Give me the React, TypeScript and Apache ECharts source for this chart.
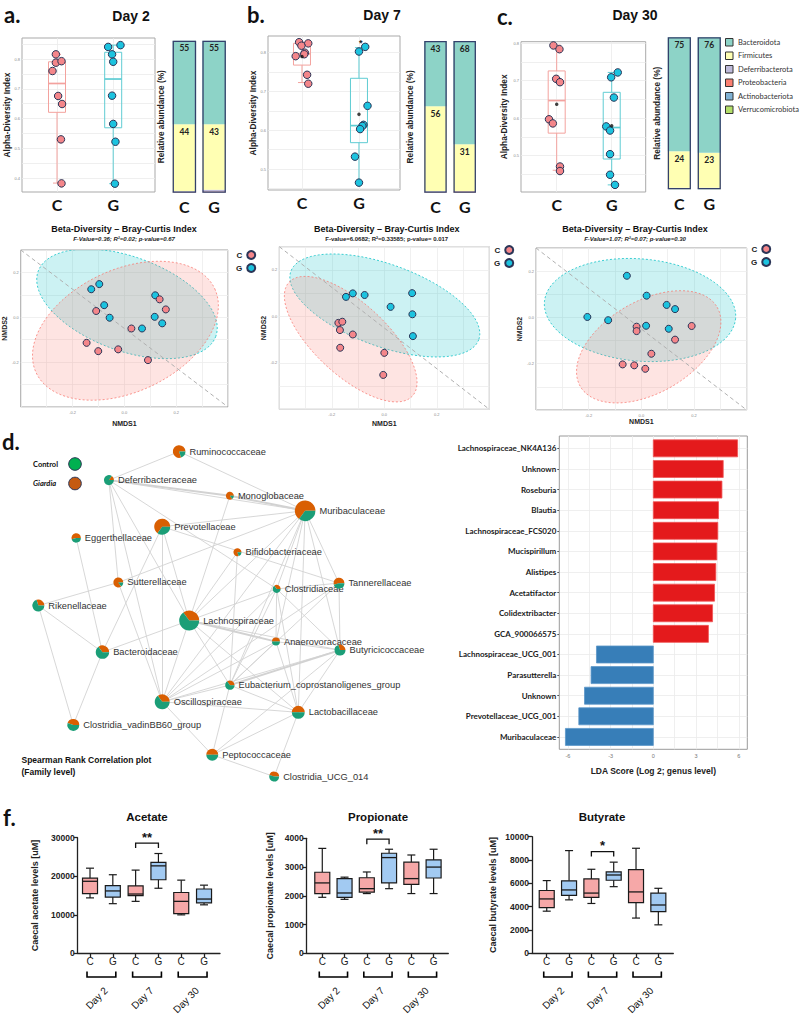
import React, { useEffect, useRef } from "react";
import * as echarts from "echarts";

const FONT = '"Liberation Sans", Arial, Helvetica, sans-serif';
const CAL = 'Lato, "Open Sans", "Liberation Sans", sans-serif';

// ---------------- a-c : alpha diversity ----------------
const groupLabels = ["C", "G"];

const alphaD2C = [0.816, 0.76, 0.788, 0.793, 0.676, 0.649, 0.53, 0.382];
const jitD2C = [-0.02, -0.08, -0.02, 0.08, 0.02, 0.09, 0.07, 0.08];
const alphaD2G = [0.841, 0.847, 0.816, 0.791, 0.677, 0.582, 0.522, 0.381];
const jitD2G = [-0.09, 0.13, -0.02, 0.0, -0.02, 0.0, 0.04, 0.03];
const boxD2C = [0.383, 0.621, 0.718, 0.791, 0.816];
const boxD2G = [0.381, 0.569, 0.733, 0.823, 0.847];

const alphaD7C = [0.827, 0.824, 0.818, 0.8, 0.796, 0.791, 0.743, 0.72];
const jitD7C = [-0.05, 0.11, -0.01, 0.05, 0.04, -0.11, 0.09, 0.11];
const alphaD7G = [0.815, 0.803, 0.663, 0.614, 0.611, 0.603, 0.532, 0.465];
const jitD7G = [0.11, 0.0, 0.15, 0.08, 0.06, 0.02, -0.07, 0.0];
const boxD7C = [0.723, 0.768, 0.797, 0.824, 0.827];
const boxD7G = [0.465, 0.568, 0.612, 0.734, 0.813];
const meanD7 = [0.79, 0.641];
const outlierD7G = [0.831];

const alphaD30C = [0.794, 0.784, 0.705, 0.696, 0.597, 0.586, 0.471, 0.459];
const jitD30C = [-0.06, 0.05, -0.01, 0.06, -0.14, -0.07, 0.06, 0.06];
const alphaD30G = [0.722, 0.709, 0.655, 0.578, 0.567, 0.504, 0.449, 0.422];
const jitD30G = [0.11, -0.01, 0.04, -0.1, -0.03, -0.03, -0.03, 0.06];
const boxD30C = [0.461, 0.56, 0.647, 0.726, 0.795];
const boxD30G = [0.422, 0.491, 0.575, 0.669, 0.722];
const meanD30 = [0.637, 0.58];

// ---------------- relative abundance (phylum) ----------------
const phyla = ["Bacteroidota", "Firmicutes", "Deferribacterota", "Proteobacteria", "Actinobacteriota", "Verrucomicrobiota"];
const relD2C = [55, 44, 0.6, 0.2, 0.1, 0.1];
const relD2G = [55, 43, 1.2, 0.5, 0.2, 0.1];
const relD7C = [43, 56, 0.6, 0.2, 0.1, 0.1];
const relD7G = [68, 31, 0.2, 0.6, 0.1, 0.1];
const relD30C = [75, 24, 0.6, 0.2, 0.1, 0.1];
const relD30G = [76, 23, 0.6, 0.2, 0.1, 0.1];

// ---------------- beta diversity (NMDS) ----------------
const betaD2C = [[-0.109, 0.028], [0.136, 0.08], [0.16, 0.035], [0.027, -0.05], [-0.146, -0.114], [-0.101, -0.151], [-0.024, -0.143], [0.091, -0.191]];
const betaD2G = [[-0.128, 0.125], [-0.097, 0.148], [-0.078, 0.054], [-0.057, -0.002], [0.119, 0.098], [0.117, 0.002], [0.146, -0.027], [0.068, -0.05]];
const ellipseD2C = [0.004, -0.06, 0.345, 0.187, 0.099, -0.247];
const ellipseD2G = [0.01, 0.06, 0.343, -0.145, -0.062, -0.197];
const betaD7C = [[-0.175, -0.028], [-0.16, -0.023], [-0.169, -0.059], [-0.12, -0.078], [-0.168, -0.135], [0.0, -0.157], [-0.004, -0.252]];
const betaD7G = [[-0.146, 0.084], [-0.12, 0.099], [-0.075, 0.092], [0.024, 0.041], [0.106, 0.1], [0.107, 0.009], [0.109, -0.085]];
const ellipseD7C = [-0.128, -0.098, 0.235, -0.245, -0.093, -0.114];
const ellipseD7G = [0.002, 0.047, 0.358, -0.147, -0.053, -0.166];
const betaD30C = [[-0.018, -0.04], [-0.018, -0.059], [0.191, -0.037], [0.128, -0.096], [0.038, -0.157], [-0.071, -0.203], [-0.027, -0.207], [0.015, -0.222]];
const betaD30G = [[-0.055, 0.18], [0.02, 0.094], [0.096, 0.054], [0.128, 0.036], [-0.205, 0.002], [-0.126, -0.012], [0.018, -0.036], [0.104, -0.049]];
const ellipseD30C = [0.028, -0.127, 0.26, 0.171, 0.087, -0.172];
const ellipseD30G = [-0.005, 0.032, 0.363, -0.036, -0.017, -0.22];
const betaStats = [
  "F-Value=0.36; R\u00B2=0.02; p-value=0.67",
  "F-value=6.0682; R\u00B2=0.33585; p-value= 0.017",
  "F-Value=1.07; R\u00B2=0.07; p-value=0.30",
];

// ---------------- d : correlation network ----------------
const families = [
  "Ruminococcaceae", "Deferribacteraceae", "Monoglobaceae", "Muribaculaceae", "Prevotellaceae",
  "Eggerthellaceae", "Bifidobacteriaceae", "Sutterellaceae", "Tannerellaceae", "Clostridiaceae",
  "Rikenellaceae", "Lachnospiraceae", "Anaerovoracaceae", "Butyricicoccaceae", "Bacteroidaceae",
  "Eubacterium_coprostanoligenes_group", "Oscillospiraceae", "Lactobacillaceae", "Clostridia_vadinBB60_group",
  "Peptococcaceae", "Clostridia_UCG_014",
];
const famX = [44.2, 24.7, 58.3, 79.2, 39.5, 15.6, 60.4, 27.3, 88.6, 71.3, 5.1, 47.0, 71.1, 88.9, 22.9, 58.3, 39.5, 77.3, 14.8, 53.4, 70.6];
const famY = [96.6, 88.2, 83.6, 79.2, 74.5, 71.2, 67.0, 58.1, 57.9, 56.2, 51.3, 46.9, 40.7, 38.2, 37.6, 27.9, 23.0, 19.9, 16.2, 7.4, 1.0];
const famAbundance = [40, 25, 16, 106, 64, 22, 16, 25, 30, 16, 36, 100, 16, 30, 45, 22, 56, 42, 36, 36, 25];
const famGiardiaShare = [0.8, 0.15, 0.85, 0.65, 0.65, 0.55, 0.8, 0.85, 0.55, 0.35, 0.3, 0.35, 0.5, 0.3, 0.35, 0.35, 0.35, 0.5, 0.45, 0.5, 0.45];
const famLinks = [
  [0, 1, 1], [0, 3, 1], [1, 2, 2], [1, 3, 1], [1, 7, 1], [1, 11, 1], [1, 16, 1], [1, 9, 1],
  [2, 3, 2], [2, 11, 1], [3, 4, 1], [3, 7, 1], [3, 11, 1], [3, 9, 1], [3, 12, 1], [3, 8, 1],
  [3, 13, 1], [3, 15, 1], [3, 16, 1], [3, 17, 1], [4, 8, 1], [4, 11, 1], [4, 16, 1], [4, 14, 1],
  [5, 14, 1], [6, 15, 1], [6, 11, 1], [7, 10, 1], [7, 16, 1], [8, 13, 1], [8, 9, 1], [8, 15, 1],
  [8, 16, 1], [9, 12, 1], [9, 15, 1], [9, 16, 1], [9, 13, 1], [9, 17, 1], [9, 11, 1], [10, 14, 1],
  [10, 18, 1], [11, 12, 2], [11, 16, 1], [11, 15, 1], [11, 17, 1], [11, 14, 1], [11, 13, 1],
  [12, 15, 1], [12, 16, 1], [12, 17, 1], [12, 13, 1], [13, 15, 2], [13, 16, 1], [13, 17, 1],
  [13, 19, 1], [14, 18, 1], [15, 16, 1], [15, 17, 1], [15, 19, 1], [16, 19, 1], [16, 17, 1],
  [17, 19, 1], [17, 20, 1], [19, 20, 1],
];

// ---------------- LDA ----------------
const ldaGenera = [
  "Lachnospiraceae_NK4A136", "Unknown", "Roseburia", "Blautia", "Lachnospiraceae_FCS020",
  "Mucispirillum", "Alistipes", "Acetatifactor", "Colidextribacter", "GCA_900066575",
  "Lachnospiraceae_UCG_001", "Parasutterella", "Unknown", "Prevotellaceae_UCG_001", "Muribaculaceae",
];
const ldaScores = [5.92, 4.91, 4.82, 4.58, 4.53, 4.46, 4.39, 4.3, 4.16, 3.87, -3.99, -4.37, -4.83, -5.23, -6.17];
const ldaTicks = [-6, -3, 0, 3, 6];

// ---------------- f : SCFA ----------------
const scfaCats = ["C", "G", "C", "G", "C", "G"];
const dayLabels = ["Day 2", "Day 7", "Day 30"];
const acetateBox = [[14400, 15500, 18700, 19500, 22100], [12900, 14600, 16200, 17600, 20400], [13500, 15000, 15400, 17500, 21600], [16900, 19100, 22700, 23600, 25900], [10000, 10300, 13500, 15800, 19000], [12600, 13100, 14100, 16700, 17700]];
const propionateBox = [[1950, 2080, 2450, 2820, 3650], [1880, 1950, 2100, 2600, 2650], [2080, 2130, 2250, 2630, 2830], [2250, 2450, 3330, 3480, 3620], [2080, 2400, 2600, 3170, 3420], [2080, 2620, 3000, 3250, 3620]];
const butyrateBox = [[3620, 3920, 4670, 5390, 6240], [4590, 4980, 5440, 6220, 8810], [4280, 4810, 5170, 6380, 7210], [5720, 6270, 6720, 6990, 7820], [3030, 4360, 5270, 7180, 9010], [2450, 3590, 4150, 5170, 5580]];
const sigValues = [28600, 3970, 8730];
const sigMarks = ["**", "**", "*"];

// ---------------- styles ----------------
const PHY_COL = ["#8DD3C7", "#FFFFB3", "#BEBADA", "#FB8072", "#80B1D3", "#B3DE69"];
const C_PT = "#F4868A";
const G_PT = "#1CC3DF";
const PT_BORDER = "#2B3557";
const C_LINE = "#F3A29E";
const G_LINE = "#5FCCD3";
const C_BOX = "#F6A8A8";
const G_BOX = "#A2CAF2";
const ORANGE = "#D95F02";
const GREEN = "#1B9E77";

function rangeVals(a: number, b: number, s: number) {
  const out: number[] = [];
  for (let k = 0; a + k * s <= b + 1e-9; k++) out.push(+(a + k * s).toFixed(4));
  return out;
}

function buildOption() {
  const grid: any[] = [];
  const xAxis: any[] = [];
  const yAxis: any[] = [];
  const series: any[] = [];
  const legend: any[] = [];
  const graphic: any[] = [];
  const addGrid = (l: number, t: number, w: number, h: number, extra: any = {}) => {
    grid.push({ left: l, top: t, width: w, height: h, ...extra });
    return grid.length - 1;
  };
  const txt = (text: string, x: number, y: number, o: any = {}) =>
    graphic.push({
      type: "text", x, y, silent: true,
      style: { text, fontSize: o.size || 10, fontWeight: o.weight || "bold", fontStyle: o.style || "normal", fontFamily: o.font || FONT, fill: o.fill || "#111", align: o.align || "center", verticalAlign: "middle" },
    });

  // ============ alpha-diversity panels ============
  const alphaSpecs = [
    { box: [22, 38, 133, 154], xr: [0.377, 2.744], yr: [0.353, 0.871], yl: [0.4, 0.5, 0.6, 0.7, 0.8], gap: 7.5, bc: boxD2C, bg: boxD2G, c: alphaD2C, cj: jitD2C, g: alphaD2G, gj: jitD2G, mean: null as any, out: null as any },
    { box: [268, 36, 132, 154], xr: [0.404, 2.72], yr: [0.446, 0.843], yl: [0.5, 0.6, 0.7, 0.8], gap: 11.5, bc: boxD7C, bg: boxD7G, c: alphaD7C, cj: jitD7C, g: alphaD7G, gj: jitD7G, mean: meanD7, out: outlierD7G },
    { box: [521, 41.7, 124.7, 150.3], xr: [0.351, 2.618], yr: [0.403, 0.804], yl: [0.5, 0.6, 0.7, 0.8], gap: 13.5, bc: boxD30C, bg: boxD30G, c: alphaD30C, cj: jitD30C, g: alphaD30G, gj: jitD30G, mean: meanD30, out: null },
  ];
  alphaSpecs.forEach((s) => {
    const gi = addGrid(s.box[0], s.box[1], s.box[2], s.box[3], { show: true, borderColor: "#a9a9a9", borderWidth: 1 });
    xAxis.push({
      gridIndex: gi, type: "value", min: s.xr[0], max: s.xr[1],
      axisLine: { show: false, onZero: false }, axisTick: { show: false, customValues: [1, 2] },
      axisLabel: { customValues: [1, 2], formatter: (v: number) => groupLabels[Math.round(v) - 1], fontSize: 16, fontWeight: "bold", color: "#111", fontFamily: CAL, margin: 4 },
      splitLine: { show: true, lineStyle: { color: "#ebebeb", width: 0.8 } },
    });
    yAxis.push({
      gridIndex: gi, type: "value", min: s.yr[0], max: s.yr[1],
      axisLine: { show: false, onZero: false },
      axisTick: { show: false, customValues: rangeVals(Math.ceil(s.yr[0] * 20 - 1e-9) / 20, s.yr[1], 0.05) },
      axisLabel: { customValues: s.yl, fontSize: 4, color: "#8a8a8a", margin: 2, formatter: (v: number) => v.toFixed(1) },
      splitLine: { show: true, lineStyle: { color: "#ebebeb", width: 0.8 } },
      name: "Alpha-Diversity Index", nameLocation: "middle", nameGap: s.gap,
      nameTextStyle: { fontSize: 8.3, fontWeight: "bold", color: "#222", fontFamily: FONT },
    });
    const lineCols = [C_LINE, G_LINE];
    series.push({
      type: "custom", name: "alphaBox", xAxisIndex: gi, yAxisIndex: gi, silent: true, z: 2,
      data: [[1, ...s.bc], [2, ...s.bg]],
      renderItem: (params: any, api: any) => {
        const x = api.value(0);
        const p = [1, 2, 3, 4, 5].map((i) => api.coord([x, api.value(i)]));
        const col = lineCols[params.dataIndex];
        const cx = p[2][0], hw = 8.5, cw = 4;
        const st = { stroke: col, lineWidth: 1, fill: "none" };
        return {
          type: "group", children: [
            { type: "line", shape: { x1: cx, y1: p[4][1], x2: cx, y2: p[3][1] }, style: st },
            { type: "line", shape: { x1: cx, y1: p[1][1], x2: cx, y2: p[0][1] }, style: st },
            { type: "line", shape: { x1: cx - cw, y1: p[4][1], x2: cx + cw, y2: p[4][1] }, style: st },
            { type: "line", shape: { x1: cx - cw, y1: p[0][1], x2: cx + cw, y2: p[0][1] }, style: st },
            { type: "rect", shape: { x: cx - hw, y: p[3][1], width: 2 * hw, height: p[1][1] - p[3][1] }, style: { fill: "rgba(255,255,255,0)", stroke: col, lineWidth: 1 } },
            { type: "line", shape: { x1: cx - hw, y1: p[2][1], x2: cx + hw, y2: p[2][1] }, style: { stroke: col, lineWidth: 1.7 } },
          ],
        };
      },
    });
    series.push({
      type: "scatter", name: "C", xAxisIndex: gi, yAxisIndex: gi, symbolSize: 7.5, z: 4, silent: true,
      itemStyle: { color: C_PT, borderColor: PT_BORDER, borderWidth: 1, opacity: 1 },
      data: s.c.map((v: number, i: number) => [1 + s.cj[i], v]),
    });
    series.push({
      type: "scatter", name: "G", xAxisIndex: gi, yAxisIndex: gi, symbolSize: 7.5, z: 4, silent: true,
      itemStyle: { color: G_PT, borderColor: PT_BORDER, borderWidth: 1, opacity: 1 },
      data: s.g.map((v: number, i: number) => [2 + s.gj[i], v]),
    });
    if (s.mean) {
      series.push({
        type: "scatter", name: "mean", xAxisIndex: gi, yAxisIndex: gi, symbolSize: 3.5, z: 5, silent: true,
        itemStyle: { color: "#111" }, data: s.mean.map((v: number, i: number) => [i + 1, v]),
      });
    }
    if (s.out) {
      series.push({
        type: "custom", name: "outlier", xAxisIndex: gi, yAxisIndex: gi, silent: true, z: 5,
        data: s.out.map((v: number) => [2.03, v]),
        renderItem: (params: any, api: any) => {
          const p = api.coord([api.value(0), api.value(1)]);
          return { type: "text", x: p[0], y: p[1] + 2, style: { text: "*", fontSize: 9, fontWeight: "bold", fill: "#222", align: "center", verticalAlign: "middle", fontFamily: FONT } };
        },
      });
    }
  });

  // ============ stacked relative-abundance bars ============
  const barSpecs = [
    { box: [169.5, 40.7, 59.5, 152], bw: 23.5, gap: 5, c: relD2C, g: relD2G },
    { box: [420.9, 41, 58.4, 151.7], bw: 22.5, gap: 6.5, c: relD7C, g: relD7G },
    { box: [664.4, 37.3, 59.8, 152], bw: 23.2, gap: 3.5, c: relD30C, g: relD30G },
  ];
  barSpecs.forEach((s) => {
    const gi = addGrid(s.box[0], s.box[1], s.box[2], s.box[3]);
    xAxis.push({
      gridIndex: gi, type: "category", data: groupLabels,
      axisLine: { show: false }, axisTick: { show: false },
      axisLabel: { fontSize: 16, fontWeight: "bold", color: "#111", fontFamily: CAL, margin: 6 },
    });
    yAxis.push({
      gridIndex: gi, type: "value", min: 0, max: 100,
      axisLine: { show: false, onZero: false }, axisTick: { show: false }, axisLabel: { show: false }, splitLine: { show: false },
      name: "Relative abundance (%)", nameLocation: "middle", nameGap: s.gap,
      nameTextStyle: { fontSize: 8.3, fontWeight: "bold", color: "#222", fontFamily: FONT },
    });
    for (let k = phyla.length - 1; k >= 0; k--) {
      series.push({
        type: "bar", name: phyla[k], xAxisIndex: gi, yAxisIndex: gi, stack: "st" + gi, barWidth: s.bw, silent: true,
        data: [s.c[k], s.g[k]],
        itemStyle: { color: PHY_COL[k] },
        label: k < 2 ? { show: true, position: "insideTop", distance: 3, fontSize: 8.5, fontWeight: "bold", color: "#222", fontFamily: CAL } : { show: false },
      });
    }
    const sum = (a: number[]) => a.reduce((p, q) => p + q, 0);
    series.push({
      type: "bar", name: "outline", xAxisIndex: gi, yAxisIndex: gi, barWidth: s.bw, barGap: "-100%", silent: true, z: 5,
      data: [sum(s.c), sum(s.g)],
      itemStyle: { color: "rgba(0,0,0,0)", borderColor: "#34406B", borderWidth: 1.3 },
    });
  });
  legend.push({
    data: phyla, orient: "vertical", left: 725, top: 38, padding: 0, icon: "rect",
    itemWidth: 7.5, itemHeight: 7.5, itemGap: 5, selectedMode: false,
    itemStyle: { borderColor: "#333", borderWidth: 1 },
    textStyle: { fontSize: 7.5, color: "#333", fontFamily: CAL, padding: [0, 0, 0, 0] },
  });

  // ============ beta diversity panels ============
  const betaSpecs = [
    { box: [20, 250, 208, 157], c: betaD2C, g: betaD2G, ec: ellipseD2C, eg: ellipseD2G, ygap: 9.5, xgap: 12.5, leg: [236, 250], title: [124, 229, 239] },
    { box: [279.3, 246.7, 210, 162.6], c: betaD7C, g: betaD7G, ec: ellipseD7C, eg: ellipseD7G, ygap: 12.5, xgap: 11, leg: [494, 245], title: [386.7, 229, 238.5] },
    { box: [536, 248, 210.7, 162], c: betaD30C, g: betaD30G, ec: ellipseD30C, eg: ellipseD30G, ygap: 12.5, xgap: 6.5, leg: [751, 244], title: [635, 229, 239] },
  ];
  const ellRender = (fill: string, stroke: string) => (params: any, api: any) => {
    const v = [0, 1, 2, 3, 4, 5].map((i) => api.value(i));
    const pts: number[][] = [];
    for (let k = 0; k < 96; k++) {
      const t = (k / 96) * Math.PI * 2;
      pts.push(api.coord([v[0] + v[2] * Math.cos(t) + v[4] * Math.sin(t), v[1] + v[3] * Math.cos(t) + v[5] * Math.sin(t)]));
    }
    return { type: "polygon", shape: { points: pts }, style: { fill, stroke, lineWidth: 1, lineDash: [2, 2] } };
  };
  betaSpecs.forEach((s, bi) => {
    const gi = addGrid(s.box[0], s.box[1], s.box[2], s.box[3], { show: true, borderColor: "#9e9e9e", borderWidth: 1 });
    xAxis.push({
      gridIndex: gi, type: "value", min: -0.4, max: 0.4,
      axisLine: { show: false, onZero: false }, axisTick: { show: false, customValues: rangeVals(-0.4, 0.4, 0.1) },
      axisLabel: { customValues: [-0.2, 0, 0.2], fontSize: 4, color: "#8a8a8a", margin: 3, formatter: (v: number) => v.toFixed(1) },
      splitLine: { show: true, lineStyle: { color: "#ececec", width: 0.8 } },
      name: "NMDS1", nameLocation: "middle", nameGap: s.xgap,
      nameTextStyle: { fontSize: 7, fontWeight: "bold", color: "#222", fontFamily: FONT },
    });
    yAxis.push({
      gridIndex: gi, type: "value", min: -0.4, max: 0.3,
      axisLine: { show: false, onZero: false }, axisTick: { show: false, customValues: rangeVals(-0.4, 0.3, 0.1) },
      axisLabel: { customValues: [-0.2, 0, 0.2], fontSize: 4, color: "#8a8a8a", margin: 2, formatter: (v: number) => v.toFixed(1) },
      splitLine: { show: true, lineStyle: { color: "#ececec", width: 0.8 } },
      name: "NMDS2", nameLocation: "middle", nameGap: s.ygap,
      nameTextStyle: { fontSize: 7, fontWeight: "bold", color: "#222", fontFamily: FONT },
    });
    series.push({ type: "custom", name: "ellG", xAxisIndex: gi, yAxisIndex: gi, silent: true, clip: true, z: 1, data: [s.eg], renderItem: ellRender("rgba(0,191,196,0.2)", "rgba(0,191,196,0.75)") });
    series.push({ type: "custom", name: "ellC", xAxisIndex: gi, yAxisIndex: gi, silent: true, clip: true, z: 1, data: [s.ec], renderItem: ellRender("rgba(248,118,109,0.2)", "rgba(248,118,109,0.75)") });
    series.push({
      type: "line", name: "diag", xAxisIndex: gi, yAxisIndex: gi, silent: true, symbol: "none", z: 2,
      data: [[-0.4, 0.3], [0.4, -0.4]], lineStyle: { color: "#b0b0b0", type: [4, 3], width: 1 },
    });
    series.push({
      type: "scatter", name: "G", xAxisIndex: gi, yAxisIndex: gi, symbolSize: 7, z: 4, silent: true,
      itemStyle: { color: G_PT, borderColor: PT_BORDER, borderWidth: 1, opacity: 1 }, data: s.g,
    });
    series.push({
      type: "scatter", name: "C", xAxisIndex: gi, yAxisIndex: gi, symbolSize: 7, z: 4, silent: true,
      itemStyle: { color: C_PT, borderColor: PT_BORDER, borderWidth: 1, opacity: 1 }, data: s.c,
    });
    legend.push({
      data: ["C", "G"], orient: "vertical", left: s.leg[0], top: s.leg[1], padding: 0, icon: "circle",
      itemWidth: 8, itemHeight: 8, itemGap: 3, align: "right", selectedMode: false,
      textStyle: { fontSize: 8, fontWeight: "bold", color: "#222", fontFamily: FONT },
    });
    txt("Beta-Diversity \u2013 Bray-Curtis Index", s.title[0], s.title[1], { size: 9, weight: "bold" });
    txt(betaStats[bi], s.title[0], s.title[2], { size: 6, weight: "bold", style: bi === 1 ? "normal" : "italic", fill: "#222" });
  });

  // ============ network ============
  {
    const gi = addGrid(20, 440, 360, 340);
    xAxis.push({ gridIndex: gi, type: "value", min: 0, max: 100, show: false });
    yAxis.push({ gridIndex: gi, type: "value", min: 0, max: 100, show: false });
    series.push({
      type: "graph", coordinateSystem: "cartesian2d", xAxisIndex: gi, yAxisIndex: gi, layout: "none", silent: true, z: 2,
      symbol: "circle",
      data: families.map((n, i) => ({ name: n, value: [famX[i], famY[i]], symbolSize: 2 * Math.sqrt(famAbundance[i]) })),
      links: famLinks.map(([a, b, w]) => ({ source: a, target: b, lineStyle: { width: w === 2 ? 2 : 0.9 } })),
      itemStyle: { color: "rgba(255,255,255,0)" },
      label: { show: true, position: "right", distance: 4, fontSize: 9.3, color: "#333", fontFamily: FONT },
      lineStyle: { color: "#d2d2d2", width: 0.9, opacity: 1, curveness: 0 },
      emphasis: { disabled: true },
    });
    series.push({
      type: "custom", name: "pies", xAxisIndex: gi, yAxisIndex: gi, silent: true, z: 3,
      data: families.map((n, i) => [famX[i], famY[i], famAbundance[i], famGiardiaShare[i]]),
      renderItem: (params: any, api: any) => {
        const c = api.coord([api.value(0), api.value(1)]);
        const r = Math.sqrt(api.value(2));
        const sh = api.value(3);
        return {
          type: "group", children: [
            { type: "sector", shape: { cx: c[0], cy: c[1], r0: 0, r, startAngle: -sh * Math.PI * 2, endAngle: 0 }, style: { fill: ORANGE } },
            { type: "sector", shape: { cx: c[0], cy: c[1], r0: 0, r, startAngle: 0, endAngle: (1 - sh) * Math.PI * 2 }, style: { fill: GREEN } },
          ],
        };
      },
    });
  }

  // ============ LDA ============
  {
    const gi = addGrid(559.3, 436, 188, 313.3, { show: true, borderColor: "#9a9a9a", borderWidth: 1 });
    xAxis.push({
      gridIndex: gi, type: "value", min: -6.6, max: 6.6,
      axisLine: { show: false, onZero: false }, axisTick: { show: false, customValues: rangeVals(-6, 6, 1.5) },
      axisLabel: { customValues: ldaTicks, fontSize: 5.5, color: "#777", margin: 4 },
      splitLine: { show: true, lineStyle: { color: "#ebebeb", width: 0.8 } },
      name: "LDA Score (Log 2; genus level)", nameLocation: "middle", nameGap: 17,
      nameTextStyle: { fontSize: 8.5, fontWeight: "bold", color: "#222", fontFamily: FONT },
    });
    yAxis.push({
      gridIndex: gi, type: "value", min: -0.6, max: 14.6, inverse: true,
      axisLine: { show: false, onZero: false },
      axisTick: { show: true, length: 2, customValues: rangeVals(0, 14, 1), lineStyle: { color: "#555" } },
      axisLabel: { customValues: rangeVals(0, 14, 1), formatter: (v: number) => ldaGenera[Math.round(v)], fontSize: 8, fontWeight: "bold", color: "#1a1a1a", fontFamily: CAL, margin: 3 },
      splitLine: { show: true, lineStyle: { color: "#ebebeb", width: 0.8 } },
    });
    series.push({
      type: "custom", name: "lda", xAxisIndex: gi, yAxisIndex: gi, silent: true, z: 3,
      data: ldaScores.map((s, i) => [s, i]),
      renderItem: (params: any, api: any) => {
        const v = api.value(0);
        const p0 = api.coord([0, api.value(1)]);
        const p1 = api.coord([v, api.value(1)]);
        const pos = v > 0;
        return {
          type: "rect",
          shape: { x: Math.min(p0[0], p1[0]), y: p0[1] - 8.5, width: Math.abs(p1[0] - p0[0]), height: 17 },
          style: { fill: pos ? "#E41A1C" : "#377EB8", stroke: pos ? "#F05555" : "#5A95C8", lineWidth: 0.8 },
        };
      },
    });
  }

  // ============ SCFA ============
  const scfaSpecs = [
    { box: [77.7, 837.7, 142.3, 120], xr: [-0.54, 5.7], yMax: 30000, yInt: 10000, name: "Caecal acetate levels [uM]", gap: 38.5, boxes: acetateBox },
    { box: [306.7, 838.3, 141.6, 120], xr: [-0.7, 5.66], yMax: 4000, yInt: 1000, name: "Caecal propionate levels [uM]", gap: 32, boxes: propionateBox },
    { box: [532, 836.7, 141.3, 120.6], xr: [-0.66, 5.67], yMax: 10000, yInt: 2000, name: "Caecal butyrate levels [uM]", gap: 34.5, boxes: butyrateBox },
  ];
  const dayAxisIdx: number[] = [];
  scfaSpecs.forEach((s, si) => {
    const gi = addGrid(s.box[0], s.box[1], s.box[2], s.box[3]);
    const ax = { color: "#222", width: 1.3 };
    xAxis.push({
      gridIndex: gi, type: "value", min: s.xr[0], max: s.xr[1],
      axisLine: { show: true, onZero: false, lineStyle: ax },
      axisTick: { show: true, customValues: rangeVals(0, 5, 1), length: 4, lineStyle: ax },
      axisLabel: { customValues: rangeVals(0, 5, 1), formatter: (v: number) => scfaCats[Math.round(v)], fontSize: 10, color: "#222", margin: 3, fontFamily: FONT },
      splitLine: { show: false },
    });
    yAxis.push({
      gridIndex: gi, type: "value", min: 0, max: s.yMax, interval: s.yInt,
      axisLine: { show: true, onZero: false, lineStyle: ax },
      axisTick: { show: true, length: 4, lineStyle: ax },
      axisLabel: { fontSize: 8.5, fontWeight: "bold", color: "#222", margin: 3, fontFamily: FONT, formatter: (v: number) => String(Math.round(v)) },
      splitLine: { show: false },
      name: s.name, nameLocation: "middle", nameGap: s.gap,
      nameTextStyle: { fontSize: 9, fontWeight: "bold", color: "#222", fontFamily: FONT },
    });
    const boxCols = [C_BOX, G_BOX];
    series.push({
      type: "custom", name: "scfaBox", xAxisIndex: gi, yAxisIndex: gi, silent: true, z: 3,
      data: s.boxes.map((b, i) => [i, ...b]),
      renderItem: (params: any, api: any) => {
        const x = api.value(0);
        const p = [1, 2, 3, 4, 5].map((i) => api.coord([x, api.value(i)]));
        const cx = p[2][0], hw = 7.5, cw = 4;
        const st = { stroke: "#1a1a1a", lineWidth: 1.2, fill: "none" };
        return {
          type: "group", children: [
            { type: "line", shape: { x1: cx, y1: p[4][1], x2: cx, y2: p[3][1] }, style: st },
            { type: "line", shape: { x1: cx, y1: p[1][1], x2: cx, y2: p[0][1] }, style: st },
            { type: "line", shape: { x1: cx - cw, y1: p[4][1], x2: cx + cw, y2: p[4][1] }, style: st },
            { type: "line", shape: { x1: cx - cw, y1: p[0][1], x2: cx + cw, y2: p[0][1] }, style: st },
            { type: "rect", shape: { x: cx - hw, y: p[3][1], width: 2 * hw, height: p[1][1] - p[3][1] }, style: { fill: boxCols[x % 2], stroke: "#1a1a1a", lineWidth: 1.2 } },
            { type: "line", shape: { x1: cx - hw, y1: p[2][1], x2: cx + hw, y2: p[2][1] }, style: { stroke: "#1a1a1a", lineWidth: 1.3 } },
          ],
        };
      },
    });
    series.push({
      type: "custom", name: "pairs", xAxisIndex: gi, yAxisIndex: gi, silent: true, clip: false, z: 3,
      data: [[0, 1], [2, 3], [4, 5]],
      renderItem: (params: any, api: any) => {
        const pl = api.coord([api.value(0), 0]);
        const pr = api.coord([api.value(1), 0]);
        const y0 = pl[1];
        return {
          type: "polyline",
          shape: { points: [[pl[0] - 3, y0 + 18], [pl[0] - 3, y0 + 23.5], [pr[0] + 3, y0 + 23.5], [pr[0] + 3, y0 + 18]] },
          style: { stroke: "#000000", lineWidth: 1.6, fill: "none" },
        };
      },
    });
    series.push({
      type: "custom", name: "sig", xAxisIndex: gi, yAxisIndex: gi, silent: true, clip: false, z: 3,
      data: [[2, 3, sigValues[si]]],
      renderItem: (params: any, api: any) => {
        const pl = api.coord([api.value(0), api.value(2)]);
        const pr = api.coord([api.value(1), api.value(2)]);
        return {
          type: "group", children: [
            { type: "polyline", shape: { points: [[pl[0], pl[1] + 5], [pl[0], pl[1]], [pr[0], pr[1]], [pr[0], pr[1] + 5]] }, style: { stroke: "#111111", lineWidth: 1.3, fill: "none" } },
            { type: "text", x: (pl[0] + pr[0]) / 2, y: pl[1] - 6, style: { text: sigMarks[si], fontSize: 13, fontWeight: "bold", fill: "#111", align: "center", verticalAlign: "middle", fontFamily: FONT } },
          ],
        };
      },
    });
    dayAxisIdx.push(gi);
  });
  scfaSpecs.forEach((s, si) => {
    xAxis.push({
      gridIndex: dayAxisIdx[si], type: "value", min: s.xr[0], max: s.xr[1], position: "bottom", offset: 26,
      axisLine: { show: false, onZero: false }, axisTick: { show: false }, splitLine: { show: false },
      axisLabel: { customValues: [0.7, 2.7, 4.7], formatter: (v: number) => dayLabels[Math.round((v - 0.7) / 2)], rotate: 45, fontSize: 10, color: "#111111", margin: 9.5, fontFamily: FONT },
    });
  });

  // ============ titles / annotations ============
  txt("a.", 4, 14, { size: 22, font: CAL, align: "left" });
  txt("b.", 247, 14, { size: 22, font: CAL, align: "left" });
  txt("c.", 497, 16, { size: 22, font: CAL, align: "left" });
  txt("Day 2", 131, 16, { size: 14 });
  txt("Day 7", 382, 15, { size: 14 });
  txt("Day 30", 635, 15, { size: 14 });
  txt("d.", 2, 441, { size: 22, font: CAL, align: "left" });
  txt("Control", 33, 464, { size: 7.5, font: CAL, align: "left" });
  txt("Giardia", 33, 483.5, { size: 7.5, font: CAL, align: "left", style: "italic" });
  graphic.push({ type: "circle", silent: true, shape: { cx: 75, cy: 464, r: 6.3 }, style: { fill: "#00B050", stroke: "#2B3557", lineWidth: 1 } });
  graphic.push({ type: "circle", silent: true, shape: { cx: 75, cy: 483.5, r: 6.3 }, style: { fill: "#C55A11", stroke: "#2B3557", lineWidth: 1 } });
  txt("Spearman Rank Correlation plot", 21.5, 760, { size: 8.5, align: "left" });
  txt("(Family level)", 21.5, 771.5, { size: 8.5, align: "left" });
  txt("f.", 3, 817, { size: 22, font: CAL, align: "left" });
  txt("Acetate", 147, 817, { size: 11.5 });
  txt("Propionate", 378, 817, { size: 11.5 });
  txt("Butyrate", 602, 817, { size: 11.5 });

  return {
    animation: false,
    backgroundColor: "#ffffff",
    textStyle: { fontFamily: FONT },
    grid, xAxis, yAxis, series, legend, graphic,
  };
}

export default function App() {
  const ref = useRef<HTMLDivElement>(null);
  useEffect(() => {
    document.body.style.margin = "0";
    const chart = echarts.init(ref.current as HTMLDivElement, null, { renderer: "svg" });
    chart.setOption(buildOption() as any);
    return () => chart.dispose();
  }, []);
  return <div ref={ref} style={{ position: "absolute", left: 0, top: 0, width: 800, height: 1017, background: "#fff" }} />;
}
